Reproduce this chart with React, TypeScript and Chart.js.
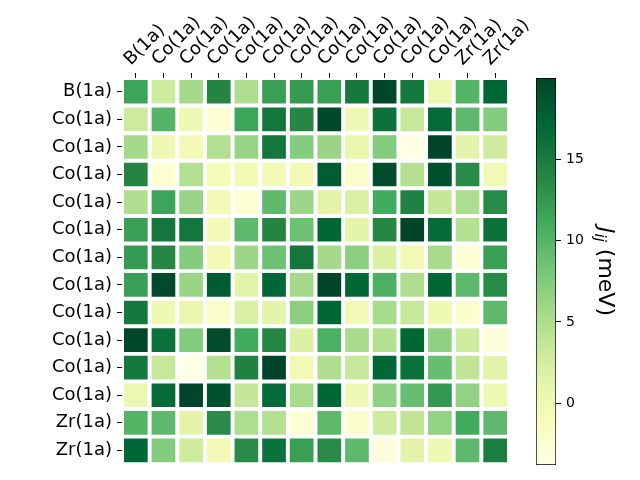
import React, { useEffect, useRef } from "react";
import { Chart, registerables } from "chart.js";

Chart.register(...registerables);

const rowLabels = [
  "B(1a)", "Co(1a)", "Co(1a)", "Co(1a)", "Co(1a)", "Co(1a)", "Co(1a)",
  "Co(1a)", "Co(1a)", "Co(1a)", "Co(1a)", "Co(1a)", "Zr(1a)", "Zr(1a)",
];
const colLabels = [
  "B(1a)", "Co(1a)", "Co(1a)", "Co(1a)", "Co(1a)", "Co(1a)", "Co(1a)",
  "Co(1a)", "Co(1a)", "Co(1a)", "Co(1a)", "Co(1a)", "Zr(1a)", "Zr(1a)",
];

// J_ij in meV, rows top to bottom
const jRow0 = [11.5, 3, 5.5, 14, 5, 12, 12.3, 12, 15.2, 19.8, 15.2, 0.3, 10, 17];
const jRow1 = [3, 10, 0, -2.5, 11.5, 15.5, 13.8, 19.6, -0.1, 16, 3.4, 16.8, 9.5, 7.5];
const jRow2 = [5.5, 0, -0.3, 4.8, 6.3, 15.5, 7.3, 6.2, 0.5, 7.5, -3.7, 20, 1.2, 2.9];
const jRow3 = [14, -2.5, 4.8, -0.5, -0.3, -0.4, -0.2, 18, -2, 19.4, 4.6, 19, 13.5, -0.2];
const jRow4 = [5, 11.5, 6.3, -0.3, -2.5, 9.5, 6, 1.2, 2.2, 11, 14.3, 3.5, 5.1, 13.5];
const jRow5 = [12, 15.5, 15.5, -0.4, 9.5, 14, 8.7, 17.1, 1.1, 13.8, 20, 16.7, 4.7, 16];
const jRow6 = [12.3, 13.8, 7.3, -0.2, 6, 8.7, 15.5, 5.5, 7, 2, -0.2, 5.4, -2.6, 12];
const jRow7 = [12, 19.6, 6.2, 18, 1.2, 17.1, 5.5, 20, 17, 10.5, 5, 17, 9.5, 13.5];
const jRow8 = [15.2, -0.1, 0.5, -2, 2.2, 1.1, 7, 17, -0.2, 5.4, 3.4, -0.1, -2.2, 9.5];
const jRow9 = [19.8, 16, 7.5, 19.4, 11, 13.8, 2, 10.5, 5.4, 4.7, 17, 6.8, 2.8, -3];
const jRow10 = [15.2, 3.4, -3.7, 4.6, 14.3, 20, -0.2, 5, 3.4, 17, 16, 9, 3.8, 1.2];
const jRow11 = [0.3, 16.8, 20, 19, 3.5, 16.7, 5.4, 17, -0.1, 6.8, 9, 12.5, 6.6, 0];
const jRow12 = [10, 9.5, 1.2, 13.5, 5.1, 4.7, -2.6, 9.5, -2.2, 2.8, 3.8, 6.6, 11, 9.5];
const jRow13 = [17, 7.5, 2.9, -0.2, 13.5, 16, 12, 13.5, 9.5, -3, 1.2, 0, 9.5, 14.7];

const jValues = [
  jRow0, jRow1, jRow2, jRow3, jRow4, jRow5, jRow6,
  jRow7, jRow8, jRow9, jRow10, jRow11, jRow12, jRow13,
];

const vMin = -3.8;
const vMax = 20;
const cbTicks = [0, 5, 10, 15];

const YLGN = [
  "#ffffe5", "#f7fcb9", "#d9f0a3", "#addd8e", "#78c679",
  "#41ab5d", "#238443", "#006837", "#004529",
];

function hexToRgb(h: string): number[] {
  const n = parseInt(h.slice(1), 16);
  return [(n >> 16) & 255, (n >> 8) & 255, n & 255];
}

function ylgn(t: number): string {
  const c = Math.max(0, Math.min(1, t)) * (YLGN.length - 1);
  const i = Math.min(Math.floor(c), YLGN.length - 2);
  const f = c - i;
  const a = hexToRgb(YLGN[i]);
  const b = hexToRgb(YLGN[i + 1]);
  const m = a.map((v, k) => Math.round(v + (b[k] - v) * f));
  return `rgb(${m[0]},${m[1]},${m[2]})`;
}

const FONT = "'DejaVu Sans', sans-serif";

const cbTitlePlugin = {
  id: "cbTitle",
  afterDraw(chart: any) {
    const { ctx, chartArea } = chart;
    const x = chartArea.right + 43;
    const y = (chartArea.top + chartArea.bottom) / 2;
    const big = 22;
    const small = 15;
    ctx.save();
    ctx.translate(x, y);
    ctx.rotate(Math.PI / 2);
    ctx.fillStyle = "#000";
    ctx.textBaseline = "alphabetic";
    ctx.textAlign = "left";
    const fJ = `italic ${big}px ${FONT}`;
    const fSub = `italic ${small}px ${FONT}`;
    const fRest = `${big}px ${FONT}`;
    ctx.font = fJ;
    const wJ = ctx.measureText("J").width;
    ctx.font = fSub;
    const wSub = ctx.measureText("ij").width;
    ctx.font = fRest;
    const wRest = ctx.measureText(" (meV)").width;
    let cx = -(wJ + wSub + wRest) / 2;
    ctx.font = fJ;
    ctx.fillText("J", cx, 0);
    cx += wJ;
    ctx.font = fSub;
    ctx.fillText("ij", cx, 4);
    cx += wSub;
    ctx.font = fRest;
    ctx.fillText(" (meV)", cx, 0);
    ctx.restore();
  },
};

export default function App() {
  const mainRef = useRef<HTMLCanvasElement>(null);
  const cbRef = useRef<HTMLCanvasElement>(null);

  useEffect(() => {
    const N = rowLabels.length;
    const datasets = jValues.map((row, r) => ({
      label: rowLabels[r],
      data: row.map(() => [N - r - 1, N - r]),
      backgroundColor: row.map((v) => ylgn((v - vMin) / (vMax - vMin))),
      borderColor: "#ffffff",
      borderWidth: 2.3,
      borderSkipped: false,
      barPercentage: 1,
      categoryPercentage: 1,
    }));

    const main = new Chart(mainRef.current as HTMLCanvasElement, {
      type: "bar",
      data: { labels: colLabels, datasets: datasets as any },
      options: {
        animation: false,
        responsive: false,
        layout: { padding: { left: 0, top: 0, right: 131, bottom: 15 } },
        plugins: { legend: { display: false }, tooltip: { enabled: false } },
        scales: {
          x: {
            position: "top",
            stacked: true,
            offset: true,
            grid: {
              offset: false,
              drawOnChartArea: false,
              drawTicks: true,
              tickLength: 5,
              color: "#000",
              lineWidth: 1,
            },
            border: { display: false },
            ticks: {
              autoSkip: false,
              maxRotation: 45,
              minRotation: 45,
              color: "#000",
              padding: 3,
              labelOffset: 7,
              font: { family: FONT, size: 18 },
            },
            afterFit: (s: any) => {
              s.height = 78;
            },
          },
          y: {
            type: "linear",
            min: 0,
            max: N,
            stacked: false,
            grid: {
              drawOnChartArea: false,
              drawTicks: true,
              tickLength: 5,
              color: "#000",
              lineWidth: 1,
            },
            border: { display: false },
            afterBuildTicks: (s: any) => {
              s.ticks = rowLabels.map((_, i) => ({ value: i + 0.5 }));
            },
            ticks: {
              autoSkip: false,
              color: "#000",
              padding: 5,
              font: { family: FONT, size: 18 },
              callback: (v: any) => rowLabels[N - 1 - Math.floor(Number(v))],
            },
            afterFit: (s: any) => {
              s.width = 122;
            },
          },
        },
      } as any,
    });

    const cb = new Chart(cbRef.current as HTMLCanvasElement, {
      type: "bar",
      data: {
        labels: [""],
        datasets: [
          {
            data: [[vMin, vMax]] as any,
            backgroundColor: (c: any) => {
              const chart = c.chart;
              const ys = chart.scales && chart.scales.y;
              if (!chart.chartArea || !ys) return YLGN[4];
              const g = chart.ctx.createLinearGradient(
                0,
                ys.getPixelForValue(vMin),
                0,
                ys.getPixelForValue(vMax)
              );
              YLGN.forEach((col, i) => g.addColorStop(i / (YLGN.length - 1), col));
              return g;
            },
            borderColor: "#000",
            borderWidth: 1,
            borderSkipped: false,
            barPercentage: 1,
            categoryPercentage: 1,
          } as any,
        ],
      },
      options: {
        animation: false,
        responsive: false,
        layout: { padding: { left: 536, top: 78, right: 0, bottom: 15 } },
        plugins: { legend: { display: false }, tooltip: { enabled: false } },
        scales: {
          x: { display: false },
          y: {
            position: "right",
            min: vMin,
            max: vMax,
            afterBuildTicks: (s: any) => {
              s.ticks = cbTicks.map((v) => ({ value: v }));
            },
            grid: {
              drawOnChartArea: false,
              drawTicks: true,
              tickLength: 5,
              color: "#000",
              lineWidth: 1,
            },
            border: { display: false },
            ticks: {
              color: "#000",
              padding: 5,
              font: { family: FONT, size: 14 },
            },
            afterFit: (s: any) => {
              s.width = 84;
            },
          },
        },
      } as any,
      plugins: [cbTitlePlugin],
    });

    return () => {
      main.destroy();
      cb.destroy();
    };
  }, []);

  return (
    <div style={{ position: "fixed", left: 0, top: 0, width: 640, height: 480, background: "#fff" }}>
      <canvas ref={mainRef} width={640} height={480} style={{ position: "absolute", left: 0, top: 0 }} />
      <canvas ref={cbRef} width={640} height={480} style={{ position: "absolute", left: 0, top: 0 }} />
    </div>
  );
}
